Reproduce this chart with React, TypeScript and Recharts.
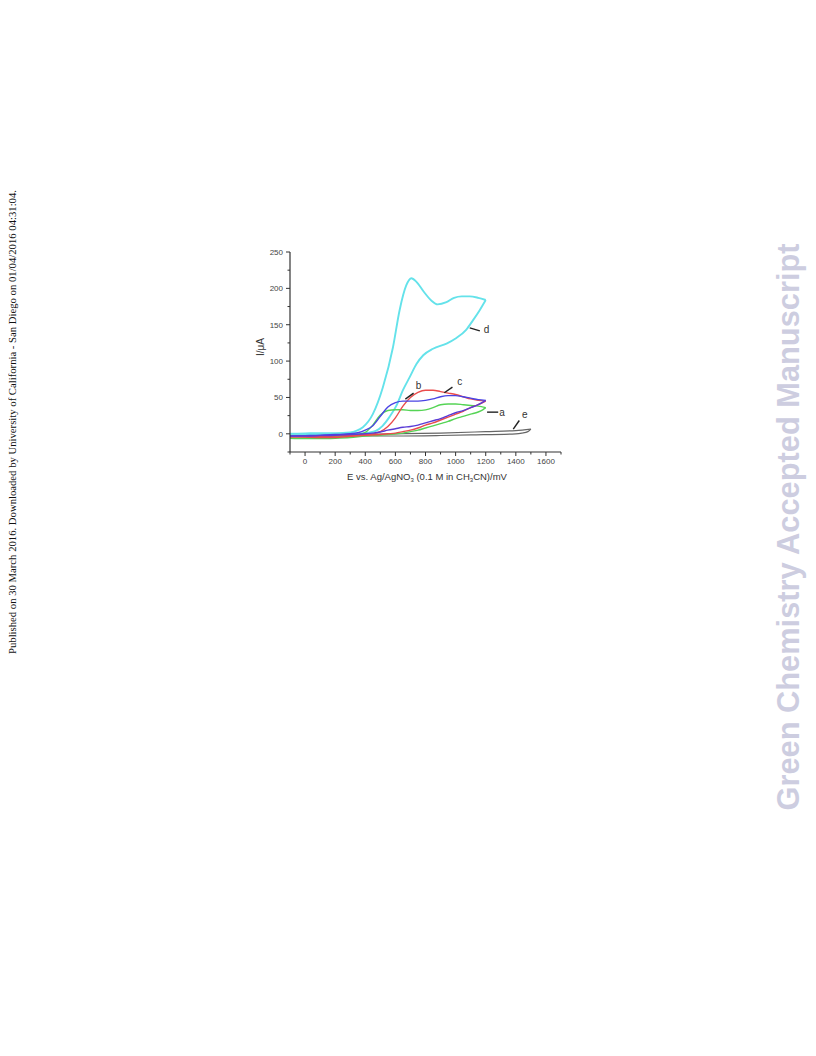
import { LineChart, Line, XAxis, YAxis, ReferenceLine, ReferenceDot } from 'recharts'

// tick values (mV and µA)
const xTicks = [-100, 0, 100, 200, 300, 400, 500, 600, 700, 800, 900, 1000, 1100, 1200, 1300, 1400, 1500, 1600, 1700]
const xLabelled = [0, 200, 400, 600, 800, 1000, 1200, 1400, 1600]
const yTicks = [-25, 0, 25, 50, 75, 100, 125, 150, 175, 200, 225, 250]
const yLabelled = [0, 50, 100, 150, 200, 250]

// each CV: forward (anodic) and reverse branch as [E (mV), I (µA)]
const aForward = [[-100, -6], [0, -6], [100, -5], [200, -4], [300, -2.5], [350, -1], [400, 2], [450, 12], [500, 26], [550, 32], [600, 33], [650, 33], [700, 32], [750, 32], [800, 33], [850, 36], [900, 40], [950, 41], [1000, 41], [1050, 40], [1100, 39], [1150, 38], [1200, 36]]
const aReverse = [[1200, 36], [1180, 33], [1150, 30], [1100, 27], [1050, 24], [1000, 21], [950, 17], [900, 14], [850, 11], [800, 8], [750, 5], [700, 3], [650, 1], [600, 0], [500, -2], [400, -3], [300, -5], [200, -6], [100, -6.5], [0, -6.5], [-100, -6]]

const bForward = [[-100, -3], [0, -2.5], [100, -2], [200, -1], [300, 0], [350, 1.5], [400, 5], [450, 11], [500, 24], [550, 37], [600, 43], [650, 45], [700, 45], [750, 45], [800, 46], [850, 48], [900, 51], [950, 52.5], [1000, 52.5], [1050, 51], [1100, 49], [1150, 47], [1200, 46]]
const bReverse = [[1200, 46], [1150, 40], [1100, 36], [1050, 32], [1000, 29], [950, 25], [900, 21], [850, 18], [800, 15], [750, 12], [700, 10], [650, 9], [600, 7], [550, 5], [500, 2.5], [450, 1], [400, 0], [300, -1], [200, -2], [100, -2.5], [0, -3], [-100, -3]]

const cForward = [[-100, -4], [0, -4], [100, -4], [200, -3], [300, -2], [400, -1], [450, 0], [500, 3], [550, 10], [600, 22], [650, 38], [700, 50], [750, 57], [800, 60], [850, 60], [900, 58], [950, 56], [1000, 54], [1050, 51], [1100, 48], [1150, 46], [1200, 45]]
const cReverse = [[1200, 45], [1150, 40], [1100, 36], [1050, 31], [1000, 27], [950, 23], [900, 19], [850, 15], [800, 12], [750, 8], [700, 5], [650, 3], [600, 1], [550, 0], [500, -1], [400, -2], [300, -3.5], [200, -5], [100, -5], [0, -4.5], [-100, -4]]

const dForward = [[-100, 0], [0, 0.5], [100, 1], [200, 1], [300, 2], [340, 4], [384, 9], [450, 27], [517, 64], [584, 119], [628, 170], [672, 204], [706, 214], [740, 209], [790, 195], [840, 183], [880, 178], [939, 181], [990, 187], [1040, 189], [1094, 189], [1150, 187], [1200, 184]]
const dReverse = [[1200, 184], [1160, 170], [1115, 156], [1070, 143], [1000, 131], [940, 124], [850, 117], [785, 108], [740, 96], [695, 78], [650, 60], [605, 38], [560, 23], [515, 11], [470, 4], [420, 1.5], [380, 0.5], [300, 0], [200, -0.5], [100, -1], [0, -1.5], [-100, -2]]

const eForward = [[-100, -2], [300, -1], [600, 0], [900, 1], [1200, 3], [1400, 4.5], [1500, 6.5]]
const eReverse = [[1500, 6.5], [1480, 3], [1440, 1], [1400, 0], [1100, -1.5], [900, -2.3], [600, -3], [300, -3], [-100, -3]]

const pts = (arr: number[][]) =>
  arr.map(([E, I]) => ({ E, I })).sort((p, q) => p.E - q.E)

const series = [
  { key: 'e1', data: eForward, color: '#666', w: 1.2 },
  { key: 'e2', data: eReverse, color: '#666', w: 1.2 },
  { key: 'd1', data: dForward, color: '#64e2ea', w: 1.9 },
  { key: 'd2', data: dReverse, color: '#64e2ea', w: 1.9 },
  { key: 'a1', data: aForward, color: '#55d455', w: 1.4 },
  { key: 'a2', data: aReverse, color: '#55d455', w: 1.4 },
  { key: 'c1', data: cForward, color: '#ea4c4c', w: 1.4 },
  { key: 'c2', data: cReverse, color: '#ea4c4c', w: 1.4 },
  { key: 'b1', data: bForward, color: '#4a44e4', w: 1.4 },
  { key: 'b2', data: bReverse, color: '#5a3cd6', w: 1.4 },
]

// curve labels with their leader lines
const tags = [
  { text: 'a', at: [1309, 30], line: [[1209, 29.8], [1283, 29.8]] },
  { text: 'b', at: [754, 66], line: [[666, 47.7], [721, 56]] },
  { text: 'c', at: [1027, 72], line: [[925, 56.4], [979, 64.2]] },
  { text: 'd', at: [1205, 143], line: [[1094, 145.6], [1161, 141.5]] },
  { text: 'e', at: [1460, 27], line: [[1383, 6.4], [1423, 18.3]] },
]

const font = '"Liberation Sans", Arial, sans-serif'

function XTick(props: any) {
  const { x, y, payload } = props
  const big = xLabelled.includes(payload.value)
  return (
    <g>
      <line x1={x} y1={y} x2={x} y2={y + (big ? 4 : 2.5)} stroke="#333" strokeWidth={1} />
      {big && (
        <text x={x} y={y + 12} textAnchor="middle" fontSize={8} fill="#444" fontFamily={font}>
          {payload.value}
        </text>
      )}
    </g>
  )
}

function YTick(props: any) {
  const { x, y, payload } = props
  const big = yLabelled.includes(payload.value)
  return (
    <g>
      <line x1={x - (big ? 4 : 2.5)} y1={y} x2={x} y2={y} stroke="#333" strokeWidth={1} />
      {big && (
        <text x={x - 7} y={y + 3} textAnchor="end" fontSize={8} fill="#444" fontFamily={font}>
          {payload.value}
        </text>
      )}
    </g>
  )
}

export default function App() {
  return (
    <div style={{ position: 'relative', width: 800, height: 1040 }}>
      <div
        style={{
          position: 'absolute', left: 4, top: 414, transform: 'translate(-50%, -50%) rotate(-90deg)',
          whiteSpace: 'nowrap', fontFamily: '"Liberation Serif", "Times New Roman", serif', fontSize: 10.7, color: '#111',
        }}
      >
        Published on 30 March 2016. Downloaded by University of California - San Diego on 01/04/2016 04:31:04.
      </div>
      <div
        style={{
          position: 'absolute', left: 781, top: 519, transform: 'translate(-50%, -50%) rotate(-90deg)',
          whiteSpace: 'nowrap', fontFamily: font, fontWeight: 'bold', fontSize: 30.8, color: '#cdcde0',
        }}
      >
        Green Chemistry Accepted Manuscript
      </div>

      <div style={{ position: 'absolute', left: 192, top: 222 }}>
        <LineChart width={400} height={280} margin={{ top: 22, right: 39, bottom: 28, left: 50 }}>
          <XAxis
            dataKey="E" type="number" domain={[-100, 1700]} ticks={xTicks} interval={0}
            tickSize={0} tickMargin={0} tickLine={false} tick={<XTick />}
            axisLine={{ stroke: '#333', strokeWidth: 1.2 }} height={30} allowDataOverflow
          />
          <YAxis
            dataKey="I" type="number" domain={[-25, 250]} ticks={yTicks} interval={0}
            tickSize={0} tickMargin={0} tickLine={false} tick={<YTick />}
            axisLine={{ stroke: '#333', strokeWidth: 1.2 }} width={40} allowDataOverflow
          />
          {series.map((s) => (
            <Line
              key={s.key} data={pts(s.data)} dataKey="I" type="monotone" stroke={s.color}
              strokeWidth={s.w} dot={false} activeDot={false} isAnimationActive={false}
            />
          ))}
          {tags.map((t) => (
            <ReferenceLine
              key={'l' + t.text}
              segment={[{ x: t.line[0][0], y: t.line[0][1] }, { x: t.line[1][0], y: t.line[1][1] }]}
              stroke="#222" strokeWidth={1.4}
            />
          ))}
          {tags.map((t) => (
            <ReferenceDot
              key={'t' + t.text} x={t.at[0]} y={t.at[1]} r={0} stroke="none" fill="none"
              label={{ value: t.text, position: 'center', fontSize: 10, fill: '#333', fontFamily: font }}
            />
          ))}
        </LineChart>
      </div>

      <div
        style={{
          position: 'absolute', left: 252, top: 339, transform: 'translate(-50%, -50%) rotate(-90deg)',
          whiteSpace: 'nowrap', fontFamily: font, fontSize: 10, color: '#333',
        }}
      >
        I/μA
      </div>
      <div
        style={{
          position: 'absolute', left: 419, top: 469, transform: 'translate(-50%, -50%)',
          whiteSpace: 'nowrap', fontFamily: font, fontSize: 9.5, color: '#333',
        }}
      >
        E vs. Ag/AgNO<sub style={{ fontSize: 6 }}>3</sub> (0.1 M in CH<sub style={{ fontSize: 6 }}>3</sub>CN)/mV
      </div>
    </div>
  )
}
